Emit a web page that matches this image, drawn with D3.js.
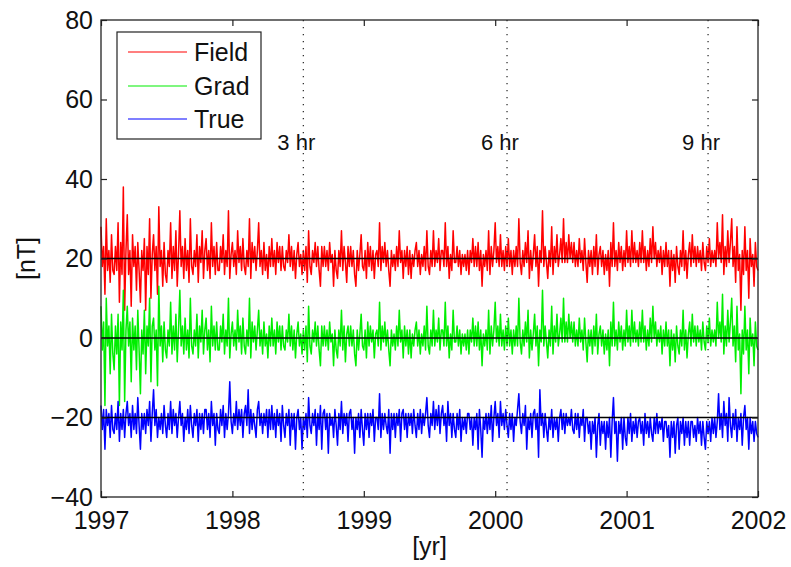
<!DOCTYPE html>
<html>
<head>
<meta charset="utf-8">
<script src="https://cdn.jsdelivr.net/npm/d3@7"></script>
<style>
  body { margin: 0; background: #ffffff; }
  text { font-family: "Liberation Sans", Arial, Helvetica, sans-serif; fill: #111; }
</style>
</head>
<body>
<div id="chart"></div>
<script>
// set the dimensions and margins of the graph
var margin = { top: 20, right: 33, bottom: 70, left: 101 },
    width = 791 - margin.left - margin.right,
    height = 567 - margin.top - margin.bottom;

// samples every 0.01 yr starting at 1997.0 (one row = 0.1 yr)
var startYear = 1997
var stepYear = 0.01

var fieldValues = [
    28, 18, 23, 11, 30, 17, 22, 14, 26, 17,
    16, 23, 17, 29, 9, 24, 16, 38, 7, 22,
    31, 16, 22, 8, 26, 18, 23, 12, 24, 17,
    9, 22, 17, 25, 7, 23, 16, 30, 10, 21,
    26, 17, 23, 11, 33, 18, 22, 13, 24, 16,
    14, 22, 18, 29, 15, 23, 17, 27, 13, 21,
    32, 18, 23, 15, 25, 17, 22, 14, 30, 18,
    16, 22, 18, 26, 14, 23, 19, 27, 15, 22,
    25, 17, 22, 15, 29, 18, 23, 16, 24, 17,
    17, 23, 19, 26, 16, 22, 18, 32, 15, 21,
    24, 18, 22, 16, 27, 19, 23, 17, 25, 18,
    16, 22, 18, 30, 15, 24, 19, 23, 17, 22,
    29, 18, 22, 16, 24, 17, 21, 15, 23, 18,
    25, 18, 22, 16, 24, 19, 23, 17, 23, 18,
    17, 22, 19, 26, 18, 23, 17, 22, 15, 21,
    24, 18, 21, 16, 22, 17, 23, 14, 27, 18,
    16, 22, 19, 24, 18, 23, 17, 13, 23, 18,
    23, 18, 22, 17, 24, 19, 21, 13, 22, 17,
    15, 22, 18, 27, 17, 23, 19, 14, 23, 18,
    23, 18, 22, 16, 13, 22, 17, 21, 26, 18,
    17, 22, 15, 24, 18, 23, 17, 22, 15, 21,
    22, 18, 29, 17, 23, 19, 24, 18, 22, 17,
    13, 22, 18, 21, 17, 23, 18, 27, 19, 22,
    15, 22, 18, 23, 16, 22, 15, 21, 18, 22,
    24, 18, 22, 16, 21, 18, 23, 17, 27, 18,
    16, 22, 18, 27, 18, 22, 19, 25, 17, 22,
    22, 18, 29, 18, 23, 15, 21, 17, 27, 19,
    19, 23, 18, 22, 16, 21, 18, 21, 17, 22,
    16, 22, 19, 25, 18, 23, 18, 24, 17, 22,
    13, 21, 18, 22, 17, 27, 16, 23, 18, 22,
    29, 19, 23, 18, 26, 18, 22, 17, 23, 18,
    25, 18, 22, 16, 22, 18, 23, 18, 30, 19,
    16, 22, 18, 24, 19, 27, 15, 22, 17, 21,
    26, 18, 23, 13, 22, 19, 32, 18, 23, 19,
    15, 22, 18, 28, 16, 23, 19, 26, 18, 21,
    25, 19, 30, 19, 24, 19, 26, 20, 24, 19,
    24, 18, 22, 18, 25, 19, 22, 17, 25, 19,
    14, 22, 18, 22, 16, 23, 18, 26, 16, 21,
    23, 18, 22, 16, 21, 17, 22, 13, 24, 18,
    29, 18, 22, 17, 24, 19, 23, 17, 22, 18,
    27, 19, 23, 18, 27, 19, 24, 19, 22, 18,
    24, 19, 27, 19, 23, 17, 22, 18, 25, 19,
    28, 20, 24, 18, 22, 19, 23, 16, 22, 18,
    24, 18, 22, 13, 22, 17, 21, 14, 23, 18,
    16, 22, 18, 27, 17, 22, 15, 21, 24, 18,
    26, 19, 23, 18, 23, 19, 22, 17, 24, 19,
    17, 23, 19, 25, 18, 22, 19, 22, 18, 29,
    20, 24, 19, 31, 16, 23, 18, 27, 19, 24,
    30, 18, 23, 14, 28, 17, 21, 7, 22, 16,
    28, 17, 22, 10, 25, 18, 21, 13, 24, 18,
    17
]

var gradValues = [
    8, -3, 4, -17, 10, -2, 3, -9, 6, -4,
    -8, 3, -4, 6, -17, 4, -3, 12, -16, 2,
    8, -2, 4, -11, 5, -3, 3, -8, 7, -3,
    -14, 2, -4, 7, -9, 3, -2, 10, -11, 3,
    5, -3, 2, -12, 13, -2, 3, -6, 4, -3,
    -5, 2, -2, 9, -4, 3, -3, 6, -6, 2,
    12, -2, 3, -4, 5, -3, 2, -5, 10, -2,
    -4, 2, -2, 6, -5, 3, -1, 7, -4, 2,
    5, -3, 2, -6, 8, -2, 3, -3, 4, -3,
    -3, 3, -1, 6, -4, 2, -2, 10, -5, 1,
    4, -2, 2, -3, 7, -1, 3, -4, 5, -2,
    -4, 2, -2, 10, -5, 4, -1, 3, -3, 2,
    7, -2, 2, -4, 4, -2, 1, -5, 3, -2,
    5, -2, 2, -4, 4, -1, 3, -3, 3, -2,
    -3, 2, -1, 6, -2, 3, -3, 2, -5, 1,
    4, -2, 1, -4, 2, -3, 3, -6, 8, -2,
    -4, 2, -1, 4, -2, 3, -3, -7, 3, -2,
    3, -2, 2, -3, 4, -1, 1, -7, 2, -3,
    -5, 2, -2, 7, -3, 3, -6, 1, 3, -2,
    3, -2, 2, -4, -7, 2, -3, 1, 6, -2,
    -3, 2, -5, 4, -2, 3, -1, 2, -5, 1,
    2, -2, 9, -3, 3, -1, 4, -2, 2, -3,
    -7, 2, -2, 1, -3, 3, -2, 7, -1, 2,
    -5, 3, -2, 2, -4, 2, -5, 1, -2, 2,
    4, -2, 2, -4, 1, -2, 3, -3, 8, -2,
    -4, 2, -2, 7, -2, 2, -1, 5, -3, 2,
    2, -2, 9, -2, 3, -5, 1, -3, 7, -1,
    -1, 3, -2, 2, -4, 1, -2, 1, -3, 2,
    -4, 2, -1, 5, -2, 3, -2, 4, -3, 2,
    -7, 1, -2, 2, -3, 7, -4, 3, -2, 2,
    9, -1, 3, -2, 6, -2, 2, -3, 3, -2,
    5, -2, 2, -4, 2, -2, 3, -2, 10, -1,
    -4, 2, -2, 4, -1, 7, -5, 2, -3, 1,
    6, -2, 3, -7, 2, -1, 12, -2, 3, -1,
    -5, 2, -2, 8, -4, 3, -1, 6, -2, 1,
    5, -1, 10, -1, 4, -1, 6, 0, 4, -1,
    4, -2, 2, -2, 5, -1, 2, -3, 5, -1,
    -6, 2, -2, 2, -4, 3, -2, 6, -4, 1,
    3, -2, 2, -4, 1, -3, 2, -7, 4, -2,
    9, -2, 2, -3, 4, -1, 3, -3, 2, -2,
    7, -1, 3, -2, 7, -1, 4, -1, 2, -2,
    4, -1, 7, -1, 3, -3, 2, -2, 5, -1,
    8, 0, 4, -2, 2, -1, 3, -4, 2, -2,
    4, -2, 2, -7, 2, -3, 1, -6, 3, -2,
    -4, 2, -2, 7, -3, 2, -5, 1, 4, -2,
    6, -1, 3, -2, 3, -1, 2, -3, 4, -1,
    -3, 3, -1, 5, -2, 2, -1, 2, -2, 9,
    0, 4, -1, 11, -4, 3, -2, 7, -1, 4,
    10, -2, 3, -6, 8, -3, 1, -14, 2, -4,
    8, -3, 2, -9, 5, -2, 1, -7, 4, -2,
    -3
]

var trueValues = [
    -17, -23, -18, -28, -18, -22, -19, -25, -17, -23,
    -24, -19, -23, -16, -26, -19, -23, -18, -25, -19,
    -16, -22, -19, -25, -17, -23, -19, -24, -15, -22,
    -28, -19, -23, -19, -24, -18, -22, -16, -26, -19,
    -13, -22, -18, -25, -20, -23, -19, -24, -17, -22,
    -25, -19, -23, -16, -24, -18, -22, -19, -25, -20,
    -16, -22, -19, -26, -20, -23, -18, -24, -17, -22,
    -25, -19, -22, -18, -26, -19, -23, -19, -24, -18,
    -18, -23, -19, -25, -16, -22, -19, -27, -19, -23,
    -24, -18, -22, -17, -25, -19, -23, -19, -11, -21,
    -24, -19, -22, -16, -23, -18, -22, -18, -25, -19,
    -17, -22, -13, -24, -18, -23, -19, -22, -25, -18,
    -16, -22, -19, -24, -19, -22, -18, -25, -18, -23,
    -17, -23, -19, -25, -18, -22, -19, -26, -17, -22,
    -25, -19, -22, -18, -27, -19, -23, -19, -28, -20,
    -18, -23, -20, -28, -20, -23, -19, -25, -15, -22,
    -24, -19, -22, -18, -27, -19, -23, -17, -28, -19,
    -18, -23, -19, -29, -19, -22, -20, -25, -18, -22,
    -27, -19, -23, -16, -24, -19, -22, -19, -26, -19,
    -18, -23, -20, -29, -20, -23, -19, -25, -18, -23,
    -27, -19, -23, -19, -25, -19, -22, -18, -26, -20,
    -20, -23, -14, -25, -19, -23, -19, -22, -24, -18,
    -29, -19, -23, -19, -25, -19, -22, -18, -26, -19,
    -18, -23, -19, -25, -19, -22, -19, -24, -18, -22,
    -25, -19, -23, -18, -24, -19, -22, -19, -15, -22,
    -25, -19, -22, -16, -23, -18, -22, -17, -24, -19,
    -17, -22, -19, -26, -16, -22, -19, -25, -19, -23,
    -25, -19, -23, -18, -26, -20, -23, -20, -24, -19,
    -19, -23, -20, -27, -20, -23, -19, -28, -18, -23,
    -30, -20, -23, -19, -24, -19, -23, -17, -26, -20,
    -16, -22, -19, -25, -16, -22, -19, -23, -18, -22,
    -25, -19, -23, -19, -26, -20, -22, -18, -14, -21,
    -24, -19, -22, -17, -28, -20, -23, -19, -25, -19,
    -18, -23, -19, -30, -13, -22, -19, -25, -19, -23,
    -26, -20, -23, -18, -25, -20, -23, -20, -26, -20,
    -18, -23, -19, -24, -19, -22, -20, -22, -18, -23,
    -24, -19, -23, -19, -25, -20, -22, -18, -26, -20,
    -20, -24, -21, -28, -21, -24, -20, -30, -22, -19,
    -27, -21, -24, -21, -28, -21, -25, -20, -30, -21,
    -15, -24, -21, -31, -21, -24, -20, -28, -20, -25,
    -27, -20, -24, -19, -26, -21, -24, -20, -25, -21,
    -20, -24, -21, -27, -19, -24, -21, -25, -20, -24,
    -26, -20, -24, -19, -24, -21, -23, -20, -26, -21,
    -21, -25, -22, -30, -21, -25, -21, -29, -22, -20,
    -28, -21, -24, -20, -27, -21, -25, -21, -27, -21,
    -21, -25, -22, -26, -20, -24, -21, -27, -21, -25,
    -28, -21, -24, -21, -26, -20, -24, -20, -25, -21,
    -14, -23, -19, -25, -16, -22, -19, -26, -15, -22,
    -25, -19, -23, -18, -26, -20, -23, -19, -27, -20,
    -17, -23, -20, -28, -20, -24, -21, -26, -21, -24,
    -25
]

var seriesNames = ['Field', 'Grad', 'True']
var seriesColors = ['#ff0000', '#00ee00', '#0000ff']
var refLevels = [20, 0, -20]
var markerYears = [1998.54, 2000.09, 2001.62]
var markerLabels = ['3 hr', '6 hr', '9 hr']
var xTicks = [1997, 1998, 1999, 2000, 2001, 2002]
var yTicks = [-40, -20, 0, 20, 40, 60, 80]

function drawChart() {
    var svg = d3.select("#chart")
        .append("svg")
        .attr("width", width + margin.left + margin.right)
        .attr("height", height + margin.top + margin.bottom)
        .append("g")
        .attr("transform", "translate(" + margin.left + "," + margin.top + ")");

    var x = d3.scaleLinear().domain([1997, 2002]).range([0, width]);
    var y = d3.scaleLinear().domain([-40, 80]).range([height, 0]);

    var line = d3.line()
        .x(function (d, i) { return x(startYear + i * stepYear); })
        .y(function (d) { return y(d); });

    // data lines
    var allSeries = [fieldValues, gradValues, trueValues]
    svg.selectAll(".series")
        .data(allSeries)
        .enter()
        .append("path")
        .attr("class", "series")
        .attr("fill", "none")
        .attr("stroke", function (d, i) { return seriesColors[i]; })
        .attr("stroke-width", 1.5)
        .attr("stroke-linejoin", "round")
        .attr("d", line)

    // black reference levels
    svg.selectAll(".ref")
        .data(refLevels)
        .enter()
        .append("line")
        .attr("x1", x(1997)).attr("x2", x(2002))
        .attr("y1", function (d) { return y(d); })
        .attr("y2", function (d) { return y(d); })
        .attr("stroke", "#000")
        .attr("stroke-width", 1.3)

    // dotted markers
    svg.selectAll(".marker")
        .data(markerYears)
        .enter()
        .append("line")
        .attr("x1", function (d) { return x(d); })
        .attr("x2", function (d) { return x(d); })
        .attr("y1", 0).attr("y2", height)
        .attr("stroke", "#333")
        .attr("stroke-width", 1.3)
        .attr("stroke-dasharray", "1.3,5.7")

    svg.selectAll(".markerLabel")
        .data(markerYears)
        .enter()
        .append("text")
        .attr("x", function (d) { return x(d) - 26; })
        .attr("y", 130)
        .style("font-size", "22px")
        .text(function (d, i) { return markerLabels[i]; })

    // axes, ticks pointing inside
    svg.append("g")
        .attr("transform", "translate(0," + height + ")")
        .call(d3.axisBottom(x).tickValues(xTicks).tickSizeInner(-6).tickSizeOuter(0).tickPadding(14).tickFormat(d3.format("d")))
        .call(function (g) { g.select(".domain").remove(); g.selectAll("text").style("font-size", "25px"); })

    svg.append("g")
        .call(d3.axisLeft(y).tickValues(yTicks).tickSizeInner(-6).tickSizeOuter(0).tickPadding(8))
        .call(function (g) { g.select(".domain").remove(); g.selectAll("text").style("font-size", "25px"); })

    svg.append("g")
        .call(d3.axisTop(x).tickValues(xTicks).tickSizeInner(-6).tickSizeOuter(0).tickFormat(""))
        .call(function (g) { g.select(".domain").remove(); })

    svg.append("g")
        .attr("transform", "translate(" + width + ",0)")
        .call(d3.axisRight(y).tickValues(yTicks).tickSizeInner(-6).tickSizeOuter(0).tickFormat(""))
        .call(function (g) { g.select(".domain").remove(); })

    svg.selectAll(".tick line").attr("stroke", "#222").attr("stroke-width", 1.2)

    svg.append("rect")
        .attr("width", width).attr("height", height)
        .attr("fill", "none")
        .attr("stroke", "#222")
        .attr("stroke-width", 1.3)

    // axis labels
    svg.append("text")
        .attr("x", width / 2)
        .attr("y", height + 58)
        .attr("text-anchor", "middle")
        .style("font-size", "25px")
        .text("[yr]")

    svg.append("text")
        .attr("transform", "translate(-75," + (height / 2) + ") rotate(-90)")
        .attr("text-anchor", "middle")
        .attr("dy", "0.35em")
        .style("font-size", "25px")
        .text("[nT]")

    // legend
    var legend = svg.append("g").attr("transform", "translate(16,12)")
    legend.append("rect")
        .attr("width", 144).attr("height", 107)
        .attr("fill", "#fff")
        .attr("stroke", "#222")
        .attr("stroke-width", 1.2)

    var rowY = [20, 54, 87]
    seriesNames.forEach(function (name, i) {
        legend.append("line")
            .attr("x1", 11).attr("x2", 70)
            .attr("y1", rowY[i]).attr("y2", rowY[i])
            .attr("stroke", seriesColors[i])
            .attr("stroke-width", 1.2)
        legend.append("text")
            .attr("x", 77).attr("y", rowY[i])
            .attr("dy", "0.35em")
            .style("font-size", "25px")
            .text(name)
    })
}

drawChart()
</script>
</body>
</html>
